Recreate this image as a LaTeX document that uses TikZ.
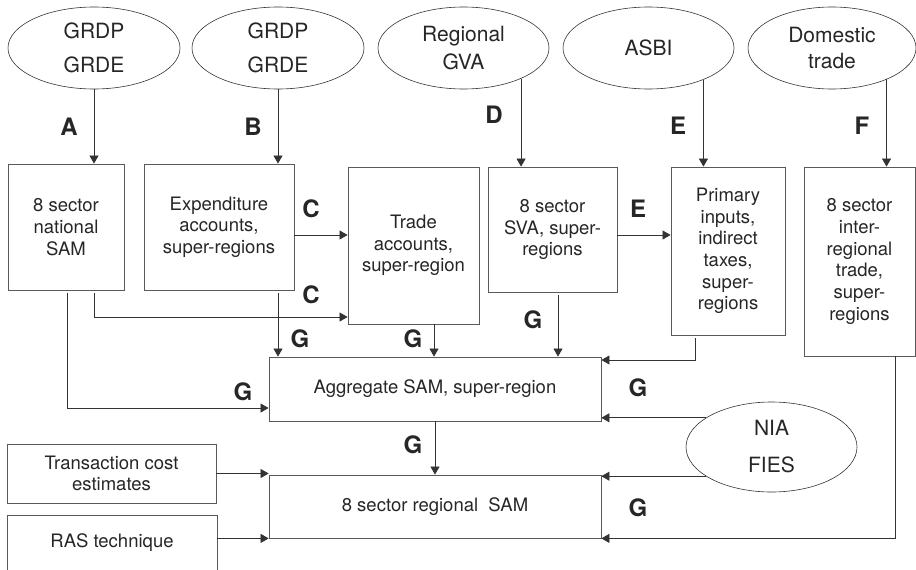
\documentclass[tikz,border=0pt]{standalone}
\usepackage{fontspec}
\setmainfont{TeX Gyre Heros}
\usetikzlibrary{arrows.meta,shapes.geometric,calc}
\begin{document}
\begin{tikzpicture}[x=1pt,y=-1pt,
  lin/.style={draw=black!80, line width=0.7pt},
  arr/.style={lin, -{Triangle[length=8pt,width=9pt]}},
  bx/.style={draw=black!65, line width=0.8pt, align=center, inner sep=2pt,
    font=\fontsize{18.5}{21.7}\selectfont, text=black!85},
  oval/.style={ellipse, draw=black!80, line width=0.6pt, align=center, inner sep=0pt,
    font=\fontsize{21}{28}\selectfont, text=black!85},
  lbl/.style={font=\fontsize{24}{24}\selectfont\bfseries, text=black!85, inner sep=0pt}]
\path[use as bounding box, clip] (0,0) rectangle (916,570);

% ellipses
\node[oval, minimum width=172, minimum height=82] (e1) at (94,48) {GRDP\\[6pt]GRDE};
\node[oval, minimum width=172, minimum height=82] (e2) at (278,48) {GRDP\\[6pt]GRDE};
\node[oval, minimum width=171, minimum height=82] (e3) at (463.5,48) {Regional\\GVA};
\node[oval, minimum width=171, minimum height=82] (e4) at (648.5,48) {ASBI};
\node[oval, minimum width=168, minimum height=82] (e5) at (832,48) {Domestic\\[-2pt]trade};
\node[oval, minimum width=171, minimum height=90] (nia) at (771.5,447) {NIA\\[9pt]FIES};

% boxes
\node[bx, minimum width=116, minimum height=126] (nat) at (66,227) {8 sector\\national\\SAM};
\node[bx, minimum width=150, minimum height=126] (exp) at (219,227) {Expenditure\\accounts,\\super-regions};
\node[bx, minimum width=131, minimum height=157] (trd) at (413.5,245.5) {Trade\\accounts,\\super-region};
\node[bx, minimum width=129, minimum height=125] (sva) at (552.5,229.5) {8 sector\\SVA, super-\\regions};
\node[bx, minimum width=114, minimum height=168] (pri) at (728,251) {Primary\\inputs,\\indirect\\taxes,\\super-\\regions};
\node[bx, minimum width=111, minimum height=189] (irt) at (859.5,261.5) {8 sector\\inter-\\regional\\trade,\\super-\\regions};
\node[bx, minimum width=332, minimum height=64] (agg) at (435,389) {Aggregate SAM, super-region};
\node[bx, minimum width=332, minimum height=63] (reg) at (435,506.5) {8 sector regional\ \ SAM};
\node[bx, minimum width=209, minimum height=59] (tc) at (111.5,473.5) {Transaction cost\\estimates};
\node[bx, minimum width=210, minimum height=56] (ras) at (112,543) {RAS technique};

% helper coordinates
\coordinate (x67) at (67,0);
\coordinate (x94) at (94,0);
\coordinate (x278) at (278,0);
\coordinate (x434) at (434,0);
\coordinate (x558) at (558,0);
\coordinate (x695) at (695,0);
\coordinate (x895) at (895,0);
\coordinate (y235) at (0,235);
\coordinate (y317) at (0,317);
\coordinate (y360) at (0,360);
\coordinate (y408) at (0,408);

% arrows from ellipses
\draw[arr] (e1.south) -- (e1.south |- nat.north);
\draw[arr] (e2.south) -- (e2.south |- exp.north);
\draw[arr] (e3.-28) -- (e3.-28 |- sva.north);
\draw[arr] (e4.-30) -- (e4.-30 |- pri.north);
\draw[arr] (e5.-30) -- (e5.-30 |- irt.north);

% C arrows
\draw[arr] (exp.east |- y235) -- (trd.west |- y235);
\draw[arr, shorten <=3pt] (nat.south -| x94) |- (trd.west |- y317);
% E arrow
\draw[arr] (sva.east |- y235) -- (pri.west |- y235);

% G arrows into aggregate
\draw[arr, shorten <=3pt] (exp.south -| x278) -- (agg.north -| x278);
\draw[arr] (trd.south -| x434) -- (agg.north -| x434);
\draw[arr, shorten <=3pt] (sva.south -| x558) -- (agg.north -| x558);
\draw[arr, shorten <=3pt] (pri.south -| x695) |- (agg.east |- y360);
\draw[arr, shorten <=3pt] (nat.south -| x67) |- (agg.west |- y408);
\draw[arr] (nia.156) -- (nia.156 -| agg.east);

% into regional SAM
\draw[arr] (agg.south) -- (reg.north);
\draw[arr] (nia.204) -- (nia.204 -| reg.east);
\draw[arr] (tc.east) -- (tc.east -| reg.west);
\draw[arr] (ras.east |- reg.south west) -- (reg.south west);
\draw[arr] (irt.south -| x895) |- (reg.south east);

% labels
\node[lbl] (lA) at (69,127) {A};
\node[lbl] (lB) at (253,127) {B};
\node[lbl] (lD) at (494,115) {D};
\node[lbl] (lE1) at (678,126) {E};
\node[lbl] (lF) at (862,126) {F};
\node[lbl] (lC1) at (311,209) {C};
\node[lbl] (lC2) at (311,295) {C};
\node[lbl] (lE2) at (638,209) {E};
\node[lbl] (lG1) at (300,339) {G};
\node[lbl] (lG2) at (413,339) {G};
\node[lbl] (lG3) at (533,320) {G};
\node[lbl] (lG4) at (243,392) {G};
\node[lbl] (lG5) at (638,388) {G};
\node[lbl] (lG6) at (413,445) {G};
\node[lbl] (lG7) at (638,508) {G};
\end{tikzpicture}
\end{document}
